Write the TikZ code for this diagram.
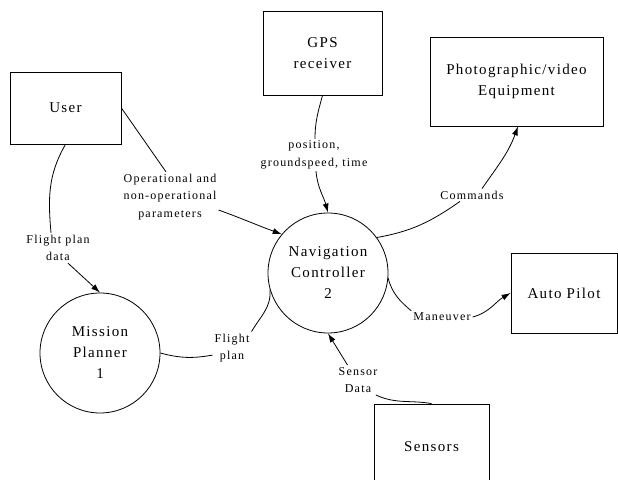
\documentclass[tikz,border=0pt]{standalone}
\usepackage{fontspec}
\setmainfont{Liberation Serif}
\newfontfamily\boxfont[LetterSpace=9]{Liberation Serif}
\newfontfamily\flowfont[LetterSpace=10]{Liberation Serif}
\usetikzlibrary{arrows.meta}
\tikzset{
  ext/.style={shape=rectangle,draw,line width=0.8pt,align=center,
    font=\boxfont\fontsize{15}{21}\selectfont},
  proc/.style={shape=circle,draw,line width=0.8pt,minimum size=120pt,inner sep=0pt,
    align=center,font=\boxfont\fontsize{15}{21}\selectfont},
  flowlbl/.style={align=center,inner sep=2pt,font=\flowfont\fontsize{12}{17.5}\selectfont},
  line/.style={line width=0.8pt},
  arr/.style={line width=0.8pt,-{Latex[length=9pt,width=6pt]}}
}
\begin{document}
\begin{tikzpicture}[x=1pt,y=1pt]
\clip (0,0) rectangle (618,479);
\node (user) at (65.5,371) [ext,minimum width=111pt,minimum height=72pt]{User};
\node (gps) at (322.5,426) [ext,minimum width=119pt,minimum height=84pt]{GPS\\receiver};
\node (photo) at (516.5,397.5) [ext,minimum width=173pt,minimum height=89pt]{Photographic/video\\Equipment};
\node (pilot) at (564,186) [ext,minimum width=106pt,minimum height=80pt]{Auto Pilot};
\node (sensors) at (431.5,32) [ext,minimum width=115pt,minimum height=86pt]{Sensors};
\node (mp) at (100,126) [proc]{Mission\\Planner\\1};
\node (nav) at (328,206) [proc]{Navigation\\Controller\\2};
% flow labels
\node (fpd) at (58,231) [flowlbl]{Flight plan\\data};
\node (opp) at (170,282) [flowlbl]{Operational and\\non-operational\\parameters};
\node (pgt) at (314,324) [flowlbl]{position,\\groundspeed, time};
\node (cmd) at (472,284) [flowlbl]{Commands};
\node (man) at (442,162) [flowlbl]{Maneuver};
\node (sd) at (358,99) [flowlbl]{Sensor\\Data};
\node (fp) at (232,131) [flowlbl]{Flight\\plan};
% flows
\draw [line] (user.south) to[out=240,in=95] ([xshift=-7pt]fpd.north);
\draw [arr] ([xshift=10pt]fpd.south) to (mp.north);
\draw [line] (user.east) to[out=-55,in=125] ([xshift=-4pt]opp.north);
\draw [arr] (opp.-15) to[out=-20,in=160] (nav.140);
\draw [line] (gps.south) to[out=-105,in=90] ([xshift=1pt]pgt.north);
\draw [arr] ([xshift=2pt]pgt.south) to[out=-85,in=105] (nav.north);
\draw [line] (nav.36) to[out=10,in=215] ([xshift=-12pt]cmd.south);
\draw [arr] ([xshift=10pt]cmd.north) to[out=55,in=-110] ([xshift=1.5pt]photo.south);
\draw [line] (nav.-5) to[out=-75,in=140] (man.north west);
\draw [arr] (man.east) to[out=15,in=210] (pilot.west);
\draw [line] (sensors.north) to[out=170,in=-25] (sd.-40);
\draw [arr] (sd.125) to (nav.south);
\draw [line] (mp.east) to[out=-15,in=190] (fp.200);
\draw [line] (fp.north east) to[out=60,in=-85] (nav.196);
\end{tikzpicture}
\end{document}
